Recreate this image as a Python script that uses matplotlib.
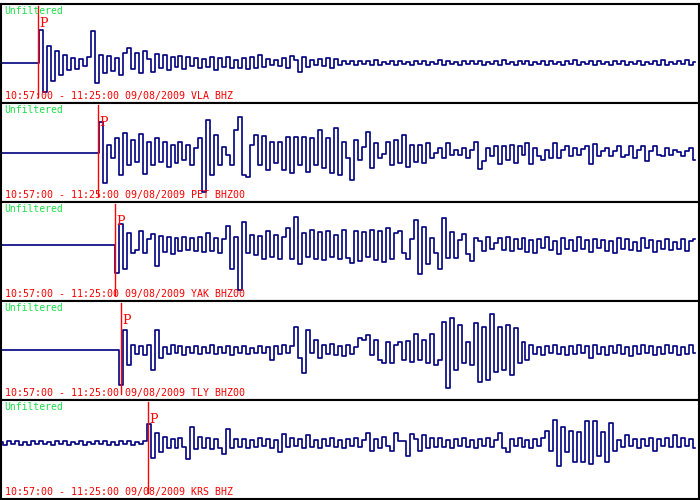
import numpy as np
import matplotlib.pyplot as plt

window = "10:57:00 - 11:25:00 09/08/2009"
stations = ["VLA BHZ", "PET BHZ00", "YAK BHZ00", "TLY BHZ00", "KRS BHZ"]
p_arrival = [89, 233, 274, 288, 353]   # seconds after 10:57:00
dt = 9.6                                # seconds between samples
span = 1680                             # 28 minutes

# amplitudes (one value every 9.6 s)
vla = [0, 0, 0, 0, 0, 0, 0, 0, 0, 0,
       33, -29, 17, -18, 12, -12, 8, -7, 5, -6,
       4, -3, 6, 32, -20, 8, -10, 7, -8, 5,
       -12, 10, 15, -6, 10, -10, 12, 4, -9, 9,
       -5, 8, -7, 6, -4, 7, -6, 6, -3, 5,
       -5, 4, -4, 6, -7, 5, -4, 6, -5, 3,
       -5, 5, -6, 6, -5, 8, -4, 4, -2, 3,
       -3, 5, -5, 7, 3, -9, 6, -4, 3, -2,
       4, -3, 5, -5, 4, -2, 2, -1, 2, -2,
       2, -1, 2, -2, 3, -2, 1, -1, 2, -2,
       2, -1, 1, -2, 2, -1, 2, -2, 1, -1,
       3, -2, 2, -1, 1, -2, 2, -1, 2, -1,
       2, -2, 1, -1, 2, -2, 3, -1, 1, -2,
       2, -1, 2, -2, 1, -1, 2, -2, 2, -1,
       1, -2, 2, -1, 3, -2, 1, -1, 2, -2,
       2, -1, 1, -2, 2, -1, 2, -2, 1, -1,
       2, -2, 1, -1, 2, -2, 3, -2, 1, -1,
       2, -1, 3, -2, 1]

pet = [0, 0, 0, 0, 0, 0, 0, 0, 0, 0,
       0, 0, 0, 0, 0, 0, 0, 0, 0, 0,
       0, 0, 0, 0, 0, 31, -30, 8, -5, 15,
       -22, 20, -12, 13, -9, 19, -21, 11, -12, 15,
       -9, 11, -14, 8, -10, 11, -7, 8, -12, 5,
       15, -39, 33, -22, 18, -12, 6, -2, -12, 23,
       36, -22, -24, 8, 18, -12, 17, -17, 11, -10,
       11, -17, 16, -20, 16, -12, 16, -19, 15, -12,
       23, -15, 15, -20, 25, -22, 11, -5, -27, 13,
       -7, 6, 21, -15, 10, -5, -1, 11, -12, 13,
       -10, 18, -14, 8, -9, 8, -10, 10, -5, 0,
       5, -5, 10, -2, 3, -2, 5, -5, 3, 11,
       -16, -8, 5, -3, 7, -11, 7, -7, 8, -10,
       7, -2, 10, -11, 5, -3, -7, 3, -5, 10,
       -5, 3, 7, -3, 5, -2, 4, 7, -11, 9,
       -3, 2, 5, -3, 2, 7, -4, -2, 7, -5,
       3, 7, -8, 2, 7, -2, -3, 5, -2, 3,
       1, -3, 2, 5, -7]

yak = [0, 0, 0, 0, 0, 0, 0, 0, 0, 0,
       0, 0, 0, 0, 0, 0, 0, 0, 0, 0,
       0, 0, 0, 0, 0, 0, 0, 0, 0, -28,
       21, -24, 12, -8, -5, 14, -8, 6, 11, -21,
       9, -7, 8, -9, 7, -6, 8, -5, 7, -6,
       8, -7, 12, -6, 7, -8, 6, 19, -24, 8,
       -45, 23, -8, 10, -10, 9, -14, 14, -12, 10,
       -14, 8, 17, -14, 28, -19, 12, -12, 15, -14,
       13, -15, 14, -12, 10, -14, 15, -13, -18, 14,
       -16, 13, -12, 15, -15, 14, -17, 17, -14, 12,
       14, -8, -14, 6, 25, -29, 18, -19, 7, -8,
       -24, 27, -13, 13, -13, 5, 11, -9, -16, 7,
       4, -6, 8, -4, 2, 7, -5, 8, -6, 6,
       -4, 7, -7, 5, -8, 6, -3, 8, -5, 4,
       -9, 7, -4, 5, -6, 8, -4, 5, -7, 6,
       -3, 5, -6, 4, -8, 7, -4, 6, -5, 3,
       -6, 7, -3, 5, -7, 4, -4, 6, -5, 3,
       -4, 6, -6, 4, 6]

tly = [0, 0, 0, 0, 0, 0, 0, 0, 0, 0,
       0, 0, 0, 0, 0, 0, 0, 0, 0, 0,
       0, 0, 0, 0, 0, 0, 0, 0, 0, 0,
       -35, 20, -15, 5, -4, 4, -5, 5, -20, 20,
       -8, 3, -4, 5, -3, 4, -5, 3, -3, 4,
       -4, 3, -3, 5, -4, 3, -3, 4, -5, 3,
       -3, 4, -4, 2, -3, 4, -3, 3, -10, 4,
       -4, 5, -3, 4, 23, -8, -23, 20, -3, 10,
       -8, 5, -4, 6, -5, 4, -6, 5, -4, 3,
       12, 10, 15, -5, 10, -10, -13, 8, -13, 5,
       8, -10, 9, -12, 16, -10, 10, -13, 16, -15,
       -10, 28, -38, 32, -20, 25, -13, 8, -15, 27,
       -32, 23, -30, 36, -22, 23, -20, 25, -25, 22,
       -13, 8, -10, 5, -4, 3, -5, 4, -3, 5,
       -4, 3, -5, 4, -4, 5, -3, 4, -8, 5,
       -4, 3, -5, 4, -3, 5, -4, 3, -6, 4,
       -4, 5, -3, 4, -5, 3, -4, 5, -3, 4,
       -5, 3, -4, 5, -3]

krs = [1, -2, 2, -1, 2, -2, 1, -2, 2, -1,
       2, -1, 1, -2, 2, -1, 2, -2, 1, -1,
       2, -2, 1, -1, 2, -1, 2, -2, 1, -2,
       2, -1, 2, -2, 1, -1, 2, 19, -15, 10,
       -9, 6, -5, 4, -5, 5, -4, -16, 16, -6,
       6, -5, 5, -6, 4, -5, -11, 14, -5, 4,
       -4, 4, -5, 3, -4, 5, -3, 4, -5, 3,
       -9, 9, -4, 5, -3, 4, -5, 8, -4, 3,
       -5, 4, -3, 5, -4, 3, -5, 4, -3, 5,
       -4, 3, 10, -8, 4, -5, 6, -3, -8, 10,
       2, 2, -13, 9, 4, -8, 8, -5, 5, -4,
       5, -4, 3, -5, 4, -3, 5, -4, 3, -5,
       4, -3, 5, -4, 3, 10, -5, -9, 4, -3,
       5, -4, 3, -5, 4, -3, 5, 12, -8, 23,
       -23, 16, -9, 12, -19, 11, -19, 22, -21, 22,
       -13, 11, -19, 20, -8, 3, -4, 8, -3, 4,
       -5, 4, -3, 5, -8, 4, -3, 5, -4, 8,
       -4, 5, -3, 4, -5]

traces = [vla, pet, yak, tly, krs]

# panel top, bottom and zero line, in pixels from the top of the image
panels = [(4, 103, 63), (103, 202, 153), (202, 301, 245),
          (301, 400, 350), (400, 499, 443)]

fig = plt.figure(figsize=(7, 5), dpi=100)

for i in range(len(traces)):
    top, bot, base = panels[i]
    ax = fig.add_axes([1 / 700, 1 - bot / 500, 698 / 700, (bot - top) / 500])
    t = np.arange(len(traces[i])) * dt
    ax.plot(t, traces[i], color='#000080', lw=1.2, drawstyle='steps-mid')
    ax.set_xlim(0, span)
    ax.set_ylim(-(bot - base), base - top)
    ax.set_xticks([])
    ax.set_yticks([])
    for s in ax.spines.values():
        s.set_linewidth(1.5)
        s.set_color('black')

    h = bot - top
    ax.axvline(p_arrival[i], ymin=6 / h, ymax=1 - 2 / h, color='red', lw=1)
    ax.text(p_arrival[i] + 3, base - top - 13, 'P', color='red',
            family='DejaVu Serif', fontsize=9, va='top', ha='left')
    ax.text(3 / 698, 1 - 2 / h, 'Unfiltered', transform=ax.transAxes,
            color='#1ee04a', family='DejaVu Sans Mono', fontsize=7,
            va='top', ha='left')
    ax.text(4 / 698, 2 / h, window + ' ' + stations[i], transform=ax.transAxes,
            color='red', family='DejaVu Sans Mono', fontsize=7.2,
            va='bottom', ha='left')

fig.savefig('out.png', dpi=100)
